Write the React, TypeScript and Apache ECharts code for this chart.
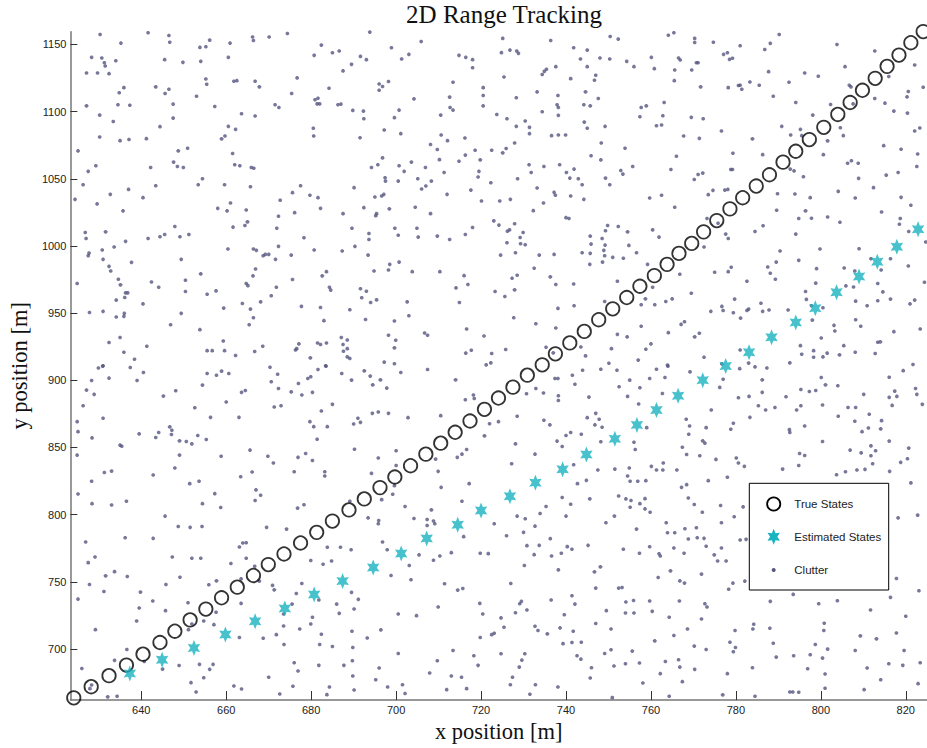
import React, { useEffect, useRef } from "react";
import * as echarts from "echarts";

// Tick labels
const xTicks = [640, 660, 680, 700, 720, 740, 760, 780, 800, 820];
const yTicks = [700, 750, 800, 850, 900, 950, 1000, 1050, 1100, 1150];

// Axis extents [m]
const xRange = [623.3, 825];
const yRange = [662, 1159.5];

// Ground-truth target positions [x, y]
const trueStates = [
  [624.1,663.6],[628.2,671.9],[632.4,680.1],[636.5,688.0],[640.4,696.1],[644.4,704.8],[647.9,713.2],[651.5,721.6],[655.2,729.7],[658.9,738.1],
  [662.6,746.0],[666.4,754.7],[669.9,762.8],[673.6,770.7],[677.5,778.9],[681.3,786.8],[685.0,795.2],[688.9,803.5],[692.5,811.7],[696.2,820.1],
  [699.7,828.0],[703.4,836.4],[707.0,845.0],[710.5,853.2],[713.9,861.3],[717.4,869.7],[720.8,878.4],[724.1,886.8],[727.5,894.9],[730.9,903.8],
  [734.4,911.5],[737.5,919.7],[740.9,927.8],[744.3,936.4],[747.7,945.1],[751.0,953.2],[754.3,961.6],[757.4,970.0],[760.8,977.9],[763.8,986.3],
  [766.6,994.5],[769.6,1001.9],[772.4,1010.5],[775.5,1018.9],[778.6,1027.6],[781.6,1035.9],[784.8,1044.6],[787.9,1053.0],[791.1,1062.4],[794.1,1070.5],
  [797.3,1079.2],[800.7,1088.3],[804.0,1097.9],[806.9,1106.8],[809.8,1115.9],[812.8,1124.8],[815.6,1133.7],[818.4,1142.1],[821.2,1151.3],[824.1,1159.6]
];

// Filter estimates [x, y]
const estimatedStates = [
  [637.3,681.8],[644.9,691.9],[652.4,700.8],[659.8,710.7],[666.8,720.6],[673.8,730.2],[680.7,740.6],[687.4,750.5],
  [694.6,760.6],[701.2,771.0],[707.2,782.3],[714.5,792.4],[720.0,803.1],[726.8,813.7],[732.8,823.8],[739.2,833.7],
  [744.8,844.8],[751.5,856.4],[756.7,866.8],[761.3,877.9],[766.4,888.5],[772.2,900.1],[777.6,910.6],[783.1,920.9],
  [788.4,932.0],[794.1,943.1],[798.7,953.7],[803.7,965.6],[809.0,977.2],[813.3,988.3],[817.9,999.4],[822.9,1012.5]
];

// Clutter measurements, grouped by area of the surveillance region
const clutterUpperLeft = [
  [630.3,1157.4],[641.6,1158.7],[646.5,1156.7],[635.2,1151.0],[646.7,1151.7],[656.1,1153.2],[666.2,1155.5],[666.4,1153.0],[670.1,1155.5],[674.4,1158.2],
  [660.9,1151.0],[653.8,1147.8],[655.2,1148.3],[682.4,1149.5],[628.3,1140.4],[630.7,1139.9],[631.3,1136.4],[631.5,1134.0],[634.0,1137.9],[645.5,1138.7],
  [649.8,1136.7],[654.0,1137.4],[660.5,1140.4],[680.7,1141.9],[685.0,1143.8],[686.6,1145.1],[627.1,1128.8],[629.7,1128.8],[632.4,1128.3],[689.5,1135.2],
  [687.5,1130.3],[655.2,1124.3],[655.4,1120.4],[661.8,1122.6],[662.5,1123.1],[666.8,1122.6],[667.8,1118.4],[676.7,1125.1],[643.4,1118.4],[646.5,1116.7],
  [645.6,1113.5],[635.9,1117.9],[634.8,1114.0],[653.0,1111.5],[675.4,1113.5],[684.2,1117.4],[680.9,1108.8],[681.6,1110.0],[681.4,1105.8],[682.0,1105.8],
  [627.1,1104.3],[634.5,1105.1],[637.3,1104.8],[647.5,1105.6],[657.3,1103.8],[671.5,1105.1],[672.4,1103.1],[686.3,1105.1],[687.0,1105.6],[689.8,1100.9],
  [630.2,1097.4],[647.5,1095.2],[663.6,1098.4],[666.8,1096.7],[633.4,1092.7],[644.4,1088.8],[660.5,1089.0],[662.2,1086.8],[680.5,1087.6],[680.6,1081.9],
  [630.2,1081.1],[635.0,1078.4],[637.1,1079.2],[641.2,1079.9],[658.9,1079.7],[659.7,1081.9],[625.1,1070.8],[648.7,1070.8],[650.9,1072.7],[661.5,1068.8],
  [629.3,1059.7],[627.5,1055.5],[642.2,1058.4],[647.6,1062.4],[648.5,1059.2],[649.9,1058.4],[662.0,1060.4],[663.2,1059.7],[665.9,1058.4],[666.5,1057.9],
  [654.4,1050.0],[653.4,1045.6],[659.6,1045.6],[665.7,1044.1],[626.3,1045.6],[637.0,1042.1],[643.4,1044.8],[632.7,1038.4],[624.4,1034.7],[629.6,1031.3],
  [640.4,1036.0],[661.0,1032.0],[658.0,1028.0],[660.2,1026.1],[664.7,1026.8],[672.7,1034.0],[675.6,1039.7],[677.5,1044.8],[679.7,1037.7],[681.6,1036.0],
  [682.2,1028.0],[690.1,1043.4],[635.7,1026.1],[676.1,1024.8],[687.5,1024.1],[672.3,1022.1],[665.0,1017.9],[664.4,1015.2],[661.6,1014.0],[671.9,1013.2],
  [647.9,1014.5],[689.6,1013.2],[626.8,1010.0],[627.0,1005.6],[631.6,1010.5],[641.6,1005.6],[644.4,1006.8],[645.5,1008.5],[649.1,1006.8],[651.2,1008.5],
  [636.3,1003.4],[633.6,999.2],[630.8,997.0],[627.7,994.7],[627.5,992.7],[631.0,990.0],[637.7,987.8],[660.4,997.7],[666.4,997.7],[667.1,996.7],
  [668.7,992.7],[669.2,993.7],[670.0,993.7],[672.3,999.7],[671.6,990.0],[675.3,993.2],[678.3,1006.1],[680.7,997.0],[687.3,996.2],[690.3,999.7],
  [649.4,990.0],[632.4,984.8],[632.8,981.4],[666.9,982.9],[666.3,977.7],[654.0,979.2],[683.6,980.9],[682.6,977.7],[634.6,975.2],[635.1,971.0],
  [642.4,973.2],[644.1,969.3],[650.4,974.5],[624.9,972.0],[664.7,972.0],[665.1,970.5],[671.8,969.3],[675.6,975.0],[684.3,969.3],[684.6,967.1],
  [636.3,965.1],[636.8,965.1],[650.4,966.1],[655.5,964.1],[657.6,966.6],[670.6,962.9],[634.1,959.7],[636.1,961.6],[640.4,956.9],[659.4,953.7],
  [663.8,957.2],[665.7,953.0],[668.1,958.4],[677.7,955.0],[682.2,954.2],[689.1,952.5],[627.8,950.5],[631.0,951.3],[636.0,949.8],[635.9,947.6],
  [634.1,947.1],[649.4,949.8],[666.4,946.6],[665.4,941.4],[646.9,941.4],[653.8,937.7],[683.0,944.4],[635.0,931.8],[632.4,928.1],[641.3,925.3],
  [659.3,929.3],[668.6,925.3],[677.1,927.1],[676.6,923.6],[676.3,922.6],[681.5,927.8],[682.2,926.6],[683.6,927.8],[687.1,931.8],[688.5,930.0],
  [687.5,926.6],[688.5,923.6],[687.6,921.6],[635.9,920.9],[655.5,922.1],[656.7,922.1],[659.6,922.1],[666.7,921.4],[662.2,918.4],[638.4,915.7],
  [679.8,916.7],[688.5,917.4],[689.1,916.2],[631.0,910.8],[683.4,910.8]
];

const clutterUpperMiddle = [
  [693.8,1159.2],[705.9,1152.2],[725.1,1154.5],[736.4,1153.0],[750.4,1155.9],[752.3,1154.0],[698.9,1147.6],[703.0,1142.6],[701.3,1139.2],[691.6,1141.1],
  [693.0,1138.7],[714.8,1141.9],[716.4,1140.4],[718.0,1138.7],[718.0,1132.7],[724.8,1143.9],[726.8,1145.8],[728.4,1145.1],[728.8,1143.4],[741.8,1147.6],
  [745.0,1145.8],[743.4,1139.2],[748.0,1139.9],[750.3,1139.2],[754.3,1137.4],[756.0,1133.5],[737.6,1133.5],[745.0,1133.5],[735.4,1131.5],[734.9,1130.0],
  [734.4,1127.6],[725.4,1125.8],[747.0,1127.1],[746.7,1123.4],[741.1,1124.6],[698.2,1122.4],[696.0,1120.6],[696.8,1118.7],[696.0,1115.9],[713.4,1121.9],
  [720.5,1117.9],[720.5,1112.0],[720.5,1104.3],[733.2,1114.7],[738.1,1112.0],[744.6,1114.7],[747.6,1109.8],[704.2,1109.5],[712.6,1110.8],[728.3,1110.3],
  [737.9,1105.1],[738.2,1103.1],[744.2,1105.1],[745.7,1104.3],[757.7,1103.1],[757.4,1096.2],[692.3,1100.4],[692.4,1094.7],[699.6,1095.5],[700.7,1101.1],
  [712.7,1103.1],[713.4,1101.1],[710.5,1097.4],[723.7,1097.9],[726.1,1094.7],[734.4,1099.9],[738.2,1097.2],[730.4,1093.0],[731.4,1088.3],[731.4,1083.6],
  [728.3,1089.0],[744.3,1092.2],[745.0,1087.6],[749.2,1089.0],[691.5,1080.6],[697.2,1086.3],[701.1,1083.6],[710.6,1082.6],[712.1,1078.4],[716.2,1080.4],
  [736.6,1082.1],[738.2,1082.6],[739.9,1082.6],[748.3,1076.7],[753.9,1072.7],[708.1,1075.5],[709.7,1071.8],[718.6,1071.3],[722.5,1071.3],[725.1,1069.3],
  [725.9,1072.5],[727.9,1076.7],[716.3,1067.6],[745.9,1067.1],[748.2,1064.1],[755.7,1059.2],[694.2,1058.4],[695.7,1060.4],[696.8,1065.6],[700.7,1059.7],
  [701.9,1055.5],[703.6,1062.4],[706.9,1058.4],[710.2,1064.3],[711.3,1054.7],[714.8,1063.1],[719.8,1064.1],[719.5,1055.5],[719.3,1051.3],[731.3,1060.4],
  [731.8,1054.7],[734.8,1059.2],[738.5,1060.4],[740.1,1054.7],[741.9,1057.2],[740.9,1050.5],[742.9,1050.0],[743.8,1045.6],[749.3,1050.5],[750.3,1045.6],
  [752.9,1056.2],[753.4,1053.5],[697.4,1050.8],[697.5,1048.3],[700.5,1048.3],[705.1,1050.0],[708.3,1048.3],[707.0,1044.6],[706.0,1042.4],[722.3,1047.1],
  [728.6,1050.0],[717.6,1041.6],[733.2,1043.1],[737.2,1039.9],[737.5,1037.7],[741.1,1037.2],[744.2,1034.7],[695.0,1036.4],[696.6,1037.2],[697.1,1038.4],
  [712.0,1038.4],[724.4,1033.5],[726.9,1034.7],[720.1,1033.5],[734.7,1032.0],[692.4,1028.5],[698.4,1027.6],[704.5,1028.8],[708.1,1024.1],[695.4,1024.1],
  [695.2,1022.6],[732.3,1026.3],[740.0,1021.1],[740.7,1020.4],[723.0,1018.7],[724.2,1015.5],[727.9,1016.5],[749.8,1015.2],[752.3,1014.5],[699.7,1013.2],
  [704.9,1013.2],[718.0,1013.7],[693.6,1009.3],[693.6,1004.8],[700.5,1008.0],[705.2,1006.6],[709.7,1007.3],[712.6,1004.8],[716.3,1008.5],[726.2,1011.0],
  [726.7,1012.0],[729.2,1006.3],[729.9,1010.0],[726.1,1002.4],[729.3,1001.6],[730.4,1000.9],[745.7,1007.3],[748.5,1005.6],[749.3,1011.3],[754.5,1010.5],
  [754.8,1000.4],[745.9,1001.4],[749.2,1000.6],[748.9,996.7],[749.1,992.7],[751.0,991.5],[753.5,990.8],[756.6,995.0],[693.4,993.2],[698.5,986.3],
  [698.2,982.1],[700.7,988.0],[743.8,995.0],[745.7,994.5],[745.6,986.3],[748.6,988.0],[724.6,993.2],[728.1,995.0],[733.7,993.2],[737.2,993.7],
  [694.8,981.4],[703.8,980.9],[710.3,980.9],[732.5,983.4],[716.0,977.9],[716.9,971.3],[714.1,968.8],[727.3,976.0],[728.5,978.2],[727.9,967.3],
  [736.3,977.0],[737.6,971.3],[741.8,971.7],[752.1,973.7],[691.6,968.1],[693.0,966.3],[691.9,961.4],[694.0,957.9],[695.4,959.9],[702.6,958.4],
  [714.9,957.9],[723.3,966.1],[725.6,962.4],[738.1,953.5],[741.9,955.5],[749.1,958.7],[692.8,945.3],[699.6,944.1],[703.0,948.1],[727.7,946.6],
  [732.9,942.1],[737.6,938.9],[757.7,956.2],[757.7,940.2],[698.2,933.5],[699.9,929.8],[699.6,924.1],[706.7,935.2],[707.4,933.5],[716.6,938.2],
  [720.7,933.0],[725.8,922.9],[717.7,922.4],[716.4,920.2],[722.5,919.9],[721.2,911.5],[722.3,913.0],[735.3,924.6],[737.0,920.4],[743.5,924.8],
  [744.6,918.2],[750.7,923.6],[752.1,934.2],[754.4,932.3],[757.0,915.0],[750.1,912.7],[697.2,913.5],[699.6,912.3]
];

const clutterUpperRight = [
  [764.1,1156.9],[765.4,1158.7],[770.3,1154.5],[770.3,1151.5],[774.7,1151.7],[781.0,1149.0],[788.1,1150.8],[786.8,1146.3],[790.2,1157.4],[803.8,1150.0],
  [812.7,1145.1],[760.1,1140.4],[766.5,1139.9],[766.9,1138.4],[770.7,1136.4],[771.1,1136.4],[777.1,1142.6],[778.0,1143.8],[778.5,1138.9],[779.2,1139.7],
  [760.8,1132.0],[765.6,1131.0],[769.6,1131.0],[787.7,1129.8],[796.2,1128.8],[799.4,1126.3],[805.7,1133.5],[816.0,1126.1],[822.1,1134.7],[765.5,1123.1],
  [771.7,1118.4],[778.2,1117.9],[780.6,1119.4],[781.0,1119.6],[781.4,1116.7],[783.3,1122.1],[785.5,1119.6],[792.5,1121.9],[788.8,1111.5],[806.7,1119.6],
  [807.1,1118.4],[824.1,1118.2],[820.6,1115.0],[820.3,1111.0],[812.7,1109.8],[815.1,1106.3],[758.9,1104.3],[763.1,1106.8],[794.1,1106.8],[802.3,1105.3],
  [807.6,1105.8],[817.2,1100.4],[820.4,1098.9],[762.8,1096.9],[769.5,1095.7],[772.3,1094.7],[761.3,1089.5],[762.5,1090.0],[776.6,1085.6],[790.8,1089.0],
  [795.2,1086.8],[798.1,1097.4],[804.6,1088.0],[767.7,1081.9],[771.4,1080.1],[783.9,1079.7],[792.9,1082.6],[795.5,1082.1],[801.6,1078.2],[805.3,1082.1],
  [822.1,1085.6],[823.3,1087.8],[779.3,1069.0],[766.0,1066.8],[786.3,1068.0],[800.6,1068.0],[822.8,1068.5],[814.8,1074.7],[818.9,1072.0],[764.7,1056.9],
  [770.2,1049.5],[771.1,1053.2],[772.2,1054.2],[778.8,1056.9],[779.2,1056.9],[792.8,1057.2],[793.7,1055.9],[795.9,1051.5],[806.3,1061.6],[807.2,1063.4],
  [808.8,1061.6],[822.6,1059.2],[818.2,1054.7],[815.4,1052.7],[808.9,1050.3],[773.5,1038.2],[774.6,1041.4],[777.4,1041.6],[778.1,1042.1],[759.7,1035.7],
  [762.5,1037.7],[789.8,1038.9],[793.9,1038.7],[804.1,1040.6],[797.5,1036.0],[808.1,1035.7],[812.4,1043.4],[818.9,1036.2],[765.6,1028.8],[773.2,1020.4],
  [775.8,1016.9],[777.6,1008.8],[778.2,1005.6],[760.4,1012.0],[761.9,1006.6],[772.5,999.2],[784.5,1010.8],[786.4,1015.0],[789.6,1026.6],[794.1,1008.8],
  [794.8,1020.4],[796.4,1026.1],[797.8,1020.6],[801.6,1021.6],[804.5,1017.7],[814.3,1025.3],[818.5,1016.2],[821.2,1030.3],[818.7,1020.4],[820.7,1010.8],
  [824.7,1002.9],[809.0,997.9],[759.2,986.3],[766.8,978.9],[775.0,980.4],[778.2,980.9],[778.9,984.1],[782.6,973.7],[787.5,984.3],[788.1,979.7],
  [789.3,975.2],[789.5,988.0],[790.4,996.2],[794.8,989.3],[799.0,983.1],[799.8,997.7],[798.8,972.3],[805.5,983.6],[808.0,981.4],[811.8,990.5],
  [814.2,982.1],[816.4,990.5],[820.6,985.1],[824.4,973.0],[758.7,960.6],[760.4,969.3],[760.9,956.2],[763.5,958.7],[765.0,960.6],[769.5,964.8],
  [776.7,955.0],[777.0,952.0],[774.1,951.3],[779.4,950.3],[779.7,960.4],[781.1,946.3],[782.6,952.0],[783.0,953.0],[785.9,957.4],[786.3,951.3],
  [787.8,952.3],[792.3,952.3],[796.4,966.1],[796.6,960.2],[797.8,955.5],[798.0,944.8],[800.5,954.0],[803.1,940.9],[805.9,970.3],[807.7,969.5],
  [808.2,958.9],[810.9,955.5],[808.2,945.1],[809.4,940.2],[813.4,972.0],[814.6,965.8],[813.4,959.2],[816.4,960.4],[822.1,959.7],[821.0,956.9],
  [823.4,938.2],[760.0,927.1],[764.1,935.5],[767.1,941.6],[767.9,943.6],[770.3,932.3],[771.4,935.0],[772.5,917.2],[776.7,912.2],[781.0,922.6],
  [783.0,912.8],[795.2,925.8],[795.5,919.4],[792.7,913.0],[798.3,922.1],[798.3,917.2],[800.5,917.4],[801.5,920.2],[800.1,931.5],[803.3,936.7],
  [805.4,925.8],[804.4,918.9],[808.1,920.9],[812.8,919.9],[813.4,928.3],[814.0,928.6],[821.7,911.8],[758.8,923.1],[763.9,911.3],[817.2,936.2]
];

const clutterLowerLeft = [
  [629.9,909.2],[630.9,910.5],[637.4,909.5],[632.4,901.6],[628.3,899.8],[640.5,905.8],[639.0,899.8],[626.3,881.1],[627.1,892.7],[628.9,889.5],
  [631.0,871.7],[624.9,869.2],[625.1,861.8],[628.4,857.1],[639.5,860.1],[643.4,857.4],[644.1,861.1],[645.2,888.2],[648.1,892.2],[646.7,865.3],
  [647.2,862.8],[647.1,859.6],[649.0,854.9],[650.6,854.4],[651.9,852.7],[653.3,858.9],[655.3,855.9],[654.4,896.4],[655.5,905.0],[657.7,903.8],
  [658.9,906.8],[660.6,905.0],[656.3,872.4],[652.6,879.6],[660.0,883.8],[663.0,872.4],[663.6,891.0],[664.5,892.4],[665.6,848.0],[670.3,909.7],
  [672.1,904.5],[670.6,898.9],[672.3,893.9],[675.3,891.4],[677.0,897.6],[677.8,889.0],[679.2,901.3],[679.9,902.6],[680.3,891.0],[681.6,908.0],
  [683.5,910.5],[687.2,905.0],[689.5,900.1],[690.0,867.5],[679.7,869.2],[680.6,865.5],[681.4,856.1],[683.8,865.5],[685.0,882.1],[682.4,877.1],
  [671.3,880.1],[672.9,881.1],[669.8,843.5],[671.1,838.4],[676.9,842.6],[678.7,845.5],[680.3,840.3],[683.2,831.9],[683.2,828.7],[676.0,831.9],
  [690.2,848.7],[635.0,851.7],[635.4,850.9],[624.9,844.3],[631.3,831.4],[633.0,832.4],[628.3,824.8],[642.8,829.5],[647.9,834.7],[649.0,844.3],
  [658.8,843.5],[666.1,831.7],[663.4,828.2],[625.1,815.4],[628.4,808.2],[633.0,807.2],[636.5,809.9],[645.6,798.9],[651.4,823.1],[653.6,824.8],
  [657.3,815.6],[658.7,805.3],[654.4,808.2],[667.0,818.4],[668.1,814.4],[666.8,810.5],[689.1,810.0],[669.5,790.5],[674.2,789.2],[676.8,804.8],
  [678.3,807.3],[648.7,791.2],[651.5,790.5],[654.3,791.2],[636.2,782.8],[642.8,782.3],[626.9,779.6],[663.1,775.9],[663.9,778.9],[664.7,779.1],
  [627.5,764.3],[629.1,768.5],[647.3,768.5],[651.9,767.5],[654.0,767.5],[661.1,763.6],[664.7,767.5],[666.7,761.6],[679.9,765.8],[682.8,763.1],
  [684.8,765.5],[683.8,775.7],[686.9,775.7],[689.4,773.9],[631.6,754.4],[633.7,757.6],[636.7,753.9],[627.8,748.0],[645.8,748.0],[649.1,753.4],
  [657.7,750.7],[655.9,747.8],[670.9,747.3],[671.3,744.0],[667.8,750.5],[663.5,752.2],[677.8,748.7],[676.5,741.3],[681.8,736.4],[689.5,742.1],
  [686.0,733.4],[686.6,726.5],[690.1,729.7],[625.1,737.1],[631.2,742.8],[639.8,742.3],[642.7,735.7],[639.5,730.5],[638.9,720.8],[645.7,728.5],
  [651.0,734.4],[654.7,720.8],[657.1,718.1],[663.5,733.9],[673.5,717.1],[675.5,733.4],[673.5,726.0],[671.8,710.7],[677.3,714.9],[680.3,723.6],
  [679.9,718.6],[682.4,710.9],[685.0,701.8],[689.6,713.2],[629.2,714.4],[636.6,699.6],[651.1,714.4],[651.9,718.6],[657.6,727.3],[663.1,708.5],
  [668.7,708.0],[673.6,703.3],[682.0,703.3],[689.8,701.1],[626.0,685.5],[628.3,673.2],[627.9,670.5],[633.7,691.5],[632.1,664.3],[634.3,664.8],
  [640.7,690.7],[645.0,685.0],[648.9,687.7],[651.7,674.9],[652.9,668.0],[653.7,688.5],[654.7,678.6],[656.1,684.8],[656.9,688.5],[661.8,672.4],
  [663.6,670.2],[670.0,678.9],[672.6,666.5],[676.0,689.7],[676.9,683.6],[675.7,672.2],[681.8,687.8],[683.7,666.0],[684.3,671.7],[687.7,687.8],
  [689.7,691.2],[689.8,679.9],[690.1,669.5]
];

const clutterLowerMiddle = [
  [692.5,907.0],[693.9,903.1],[696.3,900.3],[694.5,896.6],[697.8,894.2],[701.1,905.8],[707.4,908.0],[714.0,900.3],[716.3,885.5],[718.2,889.0],
  [718.4,886.5],[691.0,871.7],[691.6,868.7],[694.4,875.4],[695.8,876.4],[698.2,875.4],[702.8,872.2],[710.5,873.7],[722.0,867.7],[724.1,869.2],
  [728.5,873.2],[730.7,890.0],[732.9,893.9],[734.7,890.5],[737.4,901.3],[738.1,901.3],[738.2,888.5],[738.2,885.0],[741.5,903.8],[742.1,897.1],
  [743.9,907.5],[745.4,887.5],[748.2,908.2],[752.0,907.5],[752.5,895.2],[755.0,900.1],[757.4,894.4],[754.5,888.0],[757.1,882.3],[747.0,875.4],
  [747.8,871.0],[745.0,872.2],[746.8,866.8],[748.5,865.0],[743.6,859.8],[740.0,858.9],[741.1,861.1],[737.9,854.7],[739.1,850.7],[734.8,870.2],
  [736.2,866.8],[720.8,858.6],[728.1,852.7],[732.7,845.0],[727.2,837.9],[714.4,842.6],[715.5,845.0],[716.6,848.5],[709.3,841.3],[709.9,832.2],
  [710.6,820.3],[700.0,847.5],[695.8,842.1],[700.0,836.6],[694.2,830.7],[696.6,811.2],[699.2,815.2],[699.6,821.6],[717.2,823.1],[715.5,810.0],
  [702.1,806.0],[708.3,803.5],[695.9,795.6],[695.8,793.2],[693.4,797.6],[704.2,797.1],[707.3,796.4],[707.3,791.9],[708.8,795.2],[709.1,793.2],
  [723.1,793.2],[728.5,798.9],[730.4,796.9],[732.7,791.4],[733.9,800.8],[735.3,806.0],[739.1,812.7],[741.1,807.7],[740.0,798.9],[745.6,811.7],
  [749.4,793.9],[751.4,798.9],[752.4,813.9],[754.1,811.7],[755.1,805.5],[755.3,810.5],[757.4,808.2],[756.6,789.2],[754.5,828.7],[755.1,824.8],
  [756.9,824.8],[756.3,848.5],[754.9,834.7],[751.5,833.9],[747.5,833.2],[741.8,837.1],[744.8,825.5],[742.7,823.1],[748.2,854.2],[756.0,853.9],
  [715.9,783.6],[713.0,771.7],[708.8,766.0],[710.3,769.2],[705.4,770.0],[703.1,762.1],[697.9,773.9],[696.8,779.6],[698.8,754.7],[703.5,751.5],
  [711.4,748.5],[714.5,743.8],[715.7,745.0],[719.8,771.2],[721.7,771.0],[726.0,784.3],[730.8,776.9],[730.0,786.8],[732.5,770.2],[733.7,777.1],
  [736.3,782.1],[730.2,762.1],[736.6,769.2],[738.2,758.9],[738.9,771.2],[740.3,776.2],[741.4,774.2],[745.2,777.1],[746.7,757.4],[748.1,761.1],
  [753.5,774.2],[757.3,771.2],[691.1,736.9],[700.5,726.0],[704.8,724.8],[709.9,731.2],[719.7,733.9],[720.4,726.0],[727.0,748.7],[729.1,733.7],
  [729.5,735.4],[730.8,729.0],[736.5,736.4],[739.6,725.5],[741.4,739.6],[742.1,733.4],[747.0,745.3],[749.5,728.5],[752.4,745.3],[753.2,745.8],
  [754.1,734.9],[755.9,736.1],[754.0,726.8],[756.0,726.8],[693.2,708.2],[696.4,714.2],[700.5,696.6],[713.4,698.9],[718.3,694.9],[719.3,687.8],
  [719.8,708.5],[722.5,710.7],[723.1,711.7],[724.7,723.1],[725.4,716.2],[728.1,727.0],[732.7,716.9],[733.4,713.7],[735.6,711.2],[738.6,715.7],
  [739.3,704.0],[741.4,704.8],[741.7,713.2],[743.6,705.0],[742.6,694.9],[743.5,692.4],[746.0,686.0],[747.0,718.9],[749.1,696.6],[750.6,714.9],
  [750.6,699.4],[751.3,687.3],[754.0,689.0],[755.6,698.4],[757.3,689.5],[696.0,685.8],[695.2,677.1],[698.0,671.7],[701.5,673.4],[702.1,666.8],
  [707.9,682.1],[709.7,691.2],[713.0,679.9],[715.4,678.9],[716.6,670.5],[711.9,669.7],[724.7,696.4],[727.4,678.9],[729.0,686.5],[729.6,691.7],
  [730.3,696.4],[731.5,666.3],[732.8,673.4],[726.9,673.4],[738.1,671.7],[745.7,678.4],[750.9,663.8],[758.1,674.7]
];

const clutterLowerRight = [
  [761.3,908.2],[764.0,910.5],[759.7,901.3],[763.3,902.1],[769.2,906.3],[777.0,900.8],[776.2,894.7],[780.9,908.7],[784.5,910.0],[787.3,909.2],
  [786.2,900.3],[786.2,891.0],[780.6,887.0],[783.1,888.0],[785.3,881.1],[787.0,877.9],[789.2,879.8],[783.3,872.4],[774.2,877.9],[768.3,871.0],
  [769.1,866.0],[768.9,859.8],[773.0,864.8],[762.7,890.2],[759.0,864.8],[767.4,850.2],[768.4,844.8],[772.2,854.9],[772.7,853.2],[771.5,843.8],
  [775.3,841.1],[778.8,863.5],[779.4,868.0],[780.1,842.1],[780.6,838.4],[782.0,835.9],[760.1,835.9],[761.3,833.2],[762.8,833.2],[762.9,838.4],
  [766.1,833.2],[758.8,825.3],[773.5,825.3],[778.0,827.8],[767.2,820.3],[768.4,822.3],[768.8,812.4],[770.2,807.5],[772.1,801.8],[776.4,806.8],
  [776.6,793.9],[779.6,798.4],[781.7,805.8],[758.6,811.9],[758.6,804.3],[759.8,801.8],[763.6,793.9],[763.9,786.5],[765.6,786.5],[768.0,789.5],
  [768.8,781.8],[770.7,790.2],[770.9,782.8],[772.5,782.3],[773.0,776.4],[776.6,775.2],[775.7,765.5],[777.7,765.5],[774.9,770.0],[759.7,776.1],
  [761.9,770.9],[762.2,769.2],[765.4,775.2],[767.8,771.2],[781.0,781.1],[782.4,781.6],[761.7,753.2],[764.6,758.1],[766.8,750.7],[767.9,749.0],
  [771.9,755.7],[779.3,749.0],[778.3,744.5],[782.1,750.5],[785.1,745.5],[791.8,887.7],[792.6,863.3],[792.7,861.1],[796.2,866.0],[794.3,877.9],
  [795.3,881.1],[795.3,893.2],[797.3,891.7],[798.8,892.4],[800.1,902.1],[801.1,896.6],[804.0,895.9],[800.4,881.6],[804.1,873.2],[806.4,879.8],
  [808.2,879.8],[810.1,889.5],[811.4,874.7],[808.0,869.5],[809.7,861.8],[811.2,864.5],[814.3,870.0],[814.1,863.8],[816.1,854.7],[816.1,887.3],
  [816.8,881.3],[817.4,891.9],[817.9,888.0],[816.1,902.3],[819.4,907.2],[822.3,893.9],[822.6,889.5],[823.9,882.1],[820.7,849.5],[820.4,841.6],
  [818.8,838.9],[816.2,832.2],[821.2,823.6],[811.8,851.2],[812.9,847.5],[811.8,843.8],[809.5,846.0],[806.9,848.0],[812.2,837.9],[808.5,833.2],
  [810.4,833.7],[805.8,831.9],[803.7,829.7],[795.0,845.5],[796.2,844.0],[794.8,836.6],[791.0,833.9],[800.4,854.4],[818.2,797.6],[822.8,799.6],
  [817.8,752.4],[816.4,738.4],[823.1,743.3],[820.0,724.3],[817.8,711.9],[819.6,698.9],[823.4,689.7],[819.3,687.8],[816.0,689.0],[814.1,677.1],
  [810.9,685.8],[810.2,669.7],[811.7,729.0],[809.3,709.7],[813.1,707.5],[808.1,698.9],[803.9,735.9],[799.5,733.7],[800.8,719.1],[800.7,713.7],
  [798.7,703.3],[801.6,699.9],[797.5,695.7],[800.4,693.2],[801.0,670.7],[801.0,681.3],[796.9,685.3],[792.7,668.0],[793.4,668.0],[794.8,667.8],
  [793.6,694.9],[789.5,693.9],[788.8,704.3],[788.1,735.4],[793.5,740.6],[785.2,745.3],[784.2,718.4],[784.0,714.9],[788.0,715.4],[783.9,686.0],
  [779.8,713.7],[779.9,701.1],[778.6,705.0],[779.4,697.9],[778.0,681.6],[776.9,665.8],[784.5,664.8],[772.7,733.7],[773.2,731.2],[771.9,722.3],
  [768.6,714.9],[766.7,735.7],[759.7,735.7],[760.3,728.0],[764.3,723.6],[765.4,710.0],[760.9,706.0],[770.2,702.1],[773.0,699.6],[763.4,690.7],
  [766.5,692.0],[766.8,686.5],[762.2,681.6],[770.3,684.8],[767.4,675.7],[764.3,664.8],[822.9,674.2]
];

const clutter = [
  ...clutterUpperLeft,
  ...clutterUpperMiddle,
  ...clutterUpperRight,
  ...clutterLowerLeft,
  ...clutterLowerMiddle,
  ...clutterLowerRight,
];

// Marker shapes
const HEXAGRAM =
  "path://M0 -10L2.5 -4.33L8.66 -5L5 0L8.66 5L2.5 4.33L0 10L-2.5 4.33L-8.66 5L-5 0L-8.66 -5L-2.5 -4.33Z";
const DOT = "path://M1.2 0H2.8L4 1.2V2.8L2.8 4H1.2L0 2.8V1.2Z";

const STAR_COLOR = "#19b3c1";
const CLUTTER_COLOR = "#55557f";

// Hexagram outline as polygon points, for the legend swatch
function hexagramPoints(cx: number, cy: number, w: number, h: number) {
  const unit = [
    [0, -10], [2.5, -4.33], [8.66, -5], [5, 0], [8.66, 5], [2.5, 4.33],
    [0, 10], [-2.5, 4.33], [-8.66, 5], [-5, 0], [-8.66, -5], [-2.5, -4.33],
  ];
  const sx = w / 17.32;
  const sy = h / 20;
  return unit.map(([x, y]) => [cx + x * sx, cy + y * sy]);
}

const serif = "'Liberation Serif', 'Times New Roman', serif";
const sans = "'Liberation Sans', Arial, sans-serif";

function buildLegend() {
  const boxX = 749.3;
  const boxY = 483.3;
  const symX = 773.7;
  const textX = 794.3;
  const rows = [504, 536.7, 570];
  const labels = ["True States", "Estimated States", "Clutter"];
  const elements: any[] = [
    {
      type: "rect",
      shape: { x: boxX, y: boxY, width: 139.4, height: 106.7 },
      style: { fill: "#fff", stroke: "#000", lineWidth: 1 },
      z: 100,
    },
    {
      type: "circle",
      shape: { cx: symX, cy: rows[0], r: 6.6 },
      style: { fill: "none", stroke: "#000", lineWidth: 1.8 },
      z: 101,
    },
    {
      type: "polygon",
      shape: { points: hexagramPoints(symX, rows[1], 12.5, 16) },
      style: { fill: STAR_COLOR },
      z: 101,
    },
    {
      type: "circle",
      shape: { cx: symX, cy: rows[2], r: 2 },
      style: { fill: CLUTTER_COLOR },
      z: 101,
    },
  ];
  labels.forEach((t, i) => {
    elements.push({
      type: "text",
      x: textX,
      y: rows[i],
      style: {
        text: t,
        fill: "#222",
        font: `11.5px ${sans}`,
        verticalAlign: "middle",
        align: "left",
      },
      z: 101,
    });
  });
  return elements;
}

const plainNumber = (v: number) => String(v);

export default function App() {
  const ref = useRef<HTMLDivElement>(null);

  useEffect(() => {
    if (!ref.current) return;
    const chart = echarts.init(ref.current, null, { renderer: "svg" });
    chart.setOption({
      animation: false,
      backgroundColor: "#fff",
      title: {
        text: "2D Range Tracking",
        left: 499,
        top: -3,
        textAlign: "center",
        textStyle: {
          fontFamily: serif,
          fontSize: 25,
          fontWeight: "normal",
          color: "#111",
        },
      },
      grid: { left: 65.3, top: 31.7, width: 862.8, height: 674.6, containLabel: false },
      xAxis: {
        type: "value",
        min: xRange[0],
        max: xRange[1],
        name: "x position [m]",
        nameLocation: "middle",
        nameGap: 20,
        nameTextStyle: { fontFamily: serif, fontSize: 22.5, color: "#111" },
        axisLine: { show: true, onZero: false, lineStyle: { color: "#777", width: 1.5 } },
        axisTick: {
          show: true,
          inside: true,
          length: 9,
          customValues: xTicks,
          lineStyle: { color: "#333", width: 1 },
        },
        axisLabel: {
          customValues: xTicks,
          formatter: plainNumber,
          fontFamily: sans,
          fontSize: 11,
          color: "#222",
          margin: 4,
        },
        splitLine: { show: false },
      },
      yAxis: {
        type: "value",
        min: yRange[0],
        max: yRange[1],
        name: "y position [m]",
        nameLocation: "middle",
        nameGap: 23,
        nameTextStyle: { fontFamily: serif, fontSize: 22.5, color: "#111" },
        axisLine: { show: true, onZero: false, lineStyle: { color: "#777", width: 1.5 } },
        axisTick: {
          show: true,
          inside: true,
          length: 7,
          customValues: yTicks,
          lineStyle: { color: "#333", width: 1 },
        },
        axisLabel: {
          customValues: yTicks,
          formatter: plainNumber,
          fontFamily: sans,
          fontSize: 11,
          color: "#222",
          margin: 4,
        },
        splitLine: { show: false },
      },
      series: [
        {
          name: "Clutter",
          type: "scatter",
          data: clutter,
          symbol: DOT,
          symbolSize: 3.6,
          itemStyle: { color: CLUTTER_COLOR },
          silent: true,
          z: 1,
        },
        {
          name: "True States",
          type: "scatter",
          data: trueStates,
          symbol: "circle",
          symbolSize: 13.4,
          itemStyle: { color: "rgba(0,0,0,0)", borderColor: "#000", borderWidth: 1.8 },
          silent: true,
          clip: false,
          z: 2,
        },
        {
          name: "Estimated States",
          type: "scatter",
          data: estimatedStates,
          symbol: HEXAGRAM,
          symbolSize: [12.5, 16],
          symbolKeepAspect: false,
          itemStyle: { color: STAR_COLOR },
          silent: true,
          z: 3,
        },
      ],
      graphic: buildLegend(),
    });
    return () => chart.dispose();
  }, []);

  return (
    <div
      ref={ref}
      style={{ position: "fixed", left: 0, top: 0, width: 927, height: 748 }}
    />
  );
}
